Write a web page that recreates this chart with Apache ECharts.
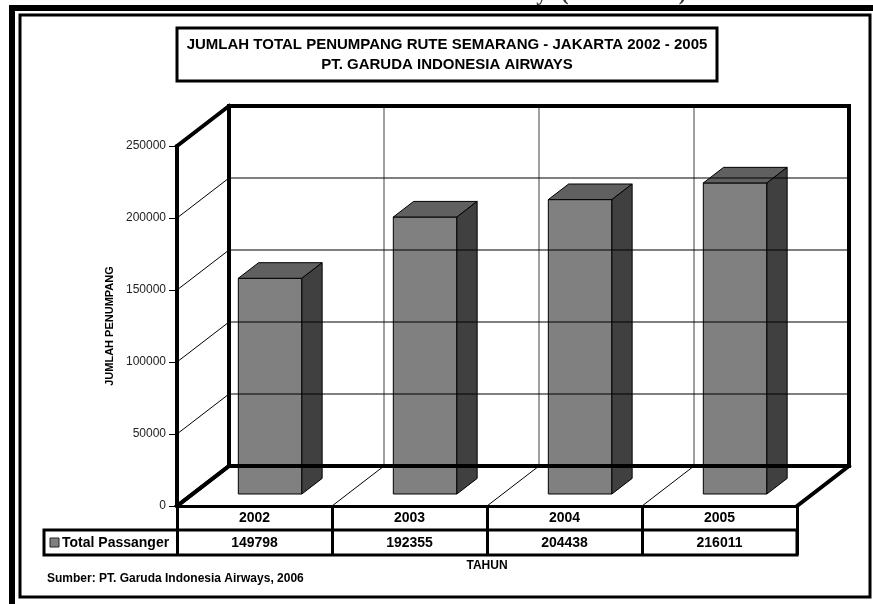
<!DOCTYPE html>
<html lang="id">
<head>
<meta charset="UTF-8">
<title>Jumlah Total Penumpang Rute Semarang - Jakarta</title>
<style>
html, body { margin: 0; padding: 0; background: #fff; }
#chart { width: 873px; height: 604px; }
</style>
</head>
<body>
<div id="chart"></div>
<script src="https://cdn.jsdelivr.net/npm/echarts@6.0.0/dist/echarts.min.js"></script>
<script>
// data
var years = ['2002', '2003', '2004', '2005'];
var passengers = [149798, 192355, 204438, 216011];
var yTicks = [0, 50000, 100000, 150000, 200000, 250000];
var seriesName = 'Total Passanger';

var DX = 52, DY = 40;     // depth of the 3d box
var F0 = 0.3, FD = 0.39;  // bar front plane / bar depth (fraction of DX,DY)
var FONT = 'Arial, "Liberation Sans", sans-serif';

var chart = echarts.init(document.getElementById('chart'));

// side wall diagonals + back wall horizontal lines, one per y tick
function renderRow(params, api) {
    var t = api.value(1);
    var p = api.coord([0, t]);
    var bw = api.size([1, 0])[0];
    var xl = p[0] - bw / 2;
    var xr = api.coord([years.length - 1, t])[0] + bw / 2;
    var y = p[1];
    var edge = t === yTicks[0] || t === yTicks[yTicks.length - 1];
    var st = { stroke: '#000', lineWidth: edge ? 4 : 1, lineCap: edge ? 'square' : 'butt' };
    return {
        type: 'group',
        children: [
            { type: 'line', z2: edge ? 10 : 1, shape: { x1: xl, y1: y, x2: xl + DX, y2: y - DY }, style: st },
            { type: 'line', z2: edge ? 10 : 1, shape: { x1: xl + DX, y1: y - DY, x2: xr + DX, y2: y - DY }, style: st }
        ]
    };
}

// back wall verticals + floor diagonals, one per category boundary
function renderCol(params, api) {
    var i = api.value(0);
    var b = api.coord([i, 0]);
    var tp = api.coord([i, yTicks[yTicks.length - 1]]);
    var bw = api.size([1, 0])[0];
    var children = [];
    function bound(x, edge) {
        children.push({
            type: 'line', z2: edge ? 10 : 0,
            shape: { x1: x + DX, y1: b[1] - DY, x2: x + DX, y2: tp[1] - DY },
            style: { stroke: edge ? '#000' : '#808080', lineWidth: edge ? 4 : 1.5, lineCap: edge ? 'square' : 'butt' }
        });
        children.push({
            type: 'line', z2: edge ? 10 : 1,
            shape: { x1: x, y1: b[1], x2: x + DX, y2: b[1] - DY },
            style: { stroke: '#000', lineWidth: edge ? 4 : 1, lineCap: edge ? 'square' : 'butt' }
        });
    }
    bound(b[0] - bw / 2, i === 0);
    if (i === years.length - 1) bound(b[0] + bw / 2, true);
    return { type: 'group', children: children };
}

function renderBar(params, api) {
    var i = api.value(0), v = api.value(1);
    var base = api.coord([i, 0]);
    var top = api.coord([i, v]);
    var bw = api.size([1, 0])[0];
    var hw = bw * 0.205;
    var x0 = base[0] - hw + DX * F0, x1 = base[0] + hw + DX * F0;
    var yb = base[1] - DY * F0, yt = top[1] - DY * F0;
    var dx = DX * FD, dy = DY * FD;
    var line = { stroke: '#000', lineWidth: 1, lineJoin: 'miter' };
    return {
        type: 'group',
        children: [
            { type: 'polygon', shape: { points: [[x0, yt], [x1, yt], [x1, yb], [x0, yb]] },
              style: Object.assign({ fill: '#808080' }, line) },
            { type: 'polygon', shape: { points: [[x0, yt], [x1, yt], [x1 + dx, yt - dy], [x0 + dx, yt - dy]] },
              style: Object.assign({ fill: '#606060' }, line) },
            { type: 'polygon', shape: { points: [[x1, yt], [x1 + dx, yt - dy], [x1 + dx, yb - dy], [x1, yb]] },
              style: Object.assign({ fill: '#404040' }, line) }
        ]
    };
}

var labelStyle = { color: '#000', fontFamily: FONT, fontSize: 14, fontWeight: 'bold' };

var option = {
    animation: false,
    backgroundColor: '#fff',
    textStyle: { fontFamily: FONT },
    grid: { left: 177, top: 146, width: 620, height: 360 },
    xAxis: [
        {
            type: 'category',
            data: years,
            position: 'bottom',
            axisLine: { lineStyle: { color: '#000', width: 3 } },
            axisTick: { show: true, interval: 0, length: 49, lineStyle: { color: '#000', width: 3 } },
            axisLabel: Object.assign({ margin: 5 }, labelStyle),
            splitLine: { show: false },
            name: 'TAHUN',
            nameLocation: 'middle',
            nameGap: 54,
            nameTextStyle: { color: '#000', fontFamily: FONT, fontSize: 12, fontWeight: 'bold' }
        },
        {
            type: 'category',
            data: passengers.map(String),
            position: 'bottom',
            offset: 24,
            axisLine: { show: false },
            axisTick: { show: false },
            axisLabel: Object.assign({ margin: 6 }, labelStyle),
            splitLine: { show: false }
        }
    ],
    yAxis: {
        type: 'value',
        min: yTicks[0],
        max: yTicks[yTicks.length - 1],
        interval: 50000,
        axisLine: { show: true, lineStyle: { color: '#000', width: 4 } },
        axisTick: { show: true, length: 8, lineStyle: { color: '#000', width: 1 } },
        axisLabel: { margin: 11, color: '#222', fontSize: 12, fontFamily: FONT, formatter: function (v) { return String(v); } },
        splitLine: { show: false },
        name: 'JUMLAH PENUMPANG',
        nameLocation: 'middle',
        nameRotate: 90,
        nameGap: 61,
        nameTextStyle: { color: '#000', fontFamily: FONT, fontSize: 11, fontWeight: 'bold' }
    },
    series: [
        {
            type: 'custom', name: 'rows', silent: true,
            data: yTicks.map(function (t) { return [0, t]; }),
            encode: { x: 0, y: 1 },
            renderItem: renderRow
        },
        {
            type: 'custom', name: 'cols', silent: true,
            data: years.map(function (y, i) { return [i, 0]; }),
            encode: { x: 0, y: 1 },
            renderItem: renderCol
        },
        {
            type: 'custom', name: seriesName,
            data: passengers.map(function (v, i) { return [i, v]; }),
            encode: { x: 0, y: 1 },
            renderItem: renderBar
        }
    ],
    graphic: [
        // page frames
        { type: 'rect', shape: { x: 12, y: 8, width: 880, height: 620 }, style: { fill: null, stroke: '#000', lineWidth: 6 } },
        { type: 'rect', shape: { x: 20, y: 15, width: 850, height: 582 }, style: { fill: null, stroke: '#000', lineWidth: 3 } },
        // clipped caption above the chart
        { type: 'text', x: 686, y: -6, style: { text: 'PT. Garuda Indonesia Airways (2002 – 2005)', align: 'right', verticalAlign: 'middle',
            fill: '#333', fontFamily: '"Liberation Serif", "Times New Roman", serif', fontWeight: 'bold', fontSize: 22 } },
        // title box
        { type: 'rect', shape: { x: 177, y: 28, width: 540, height: 53 }, style: { fill: '#fff', stroke: '#000', lineWidth: 3 } },
        { type: 'text', x: 447, y: 55, style: {
            text: 'JUMLAH TOTAL PENUMPANG RUTE SEMARANG - JAKARTA 2002 - 2005\nPT. GARUDA INDONESIA AIRWAYS',
            align: 'center', verticalAlign: 'middle', lineHeight: 20,
            fill: '#000', fontFamily: FONT, fontWeight: 'bold', fontSize: 15 } },
        // data table row for the series
        { type: 'rect', shape: { x: 44, y: 530, width: 753, height: 25 }, style: { fill: null, stroke: '#000', lineWidth: 3 } },
        { type: 'rect', shape: { x: 50, y: 538, width: 9, height: 9 }, style: { fill: '#808080', stroke: '#222', lineWidth: 1 } },
        { type: 'text', x: 62, y: 543, style: { text: seriesName, verticalAlign: 'middle',
            fill: '#000', fontFamily: FONT, fontWeight: 'bold', fontSize: 14 } },
        // source note
        { type: 'text', x: 47, y: 579, style: { text: 'Sumber: PT. Garuda Indonesia Airways, 2006', verticalAlign: 'middle',
            fill: '#000', fontFamily: FONT, fontWeight: 'bold', fontSize: 12 } }
    ]
};

chart.setOption(option);
</script>
</body>
</html>
